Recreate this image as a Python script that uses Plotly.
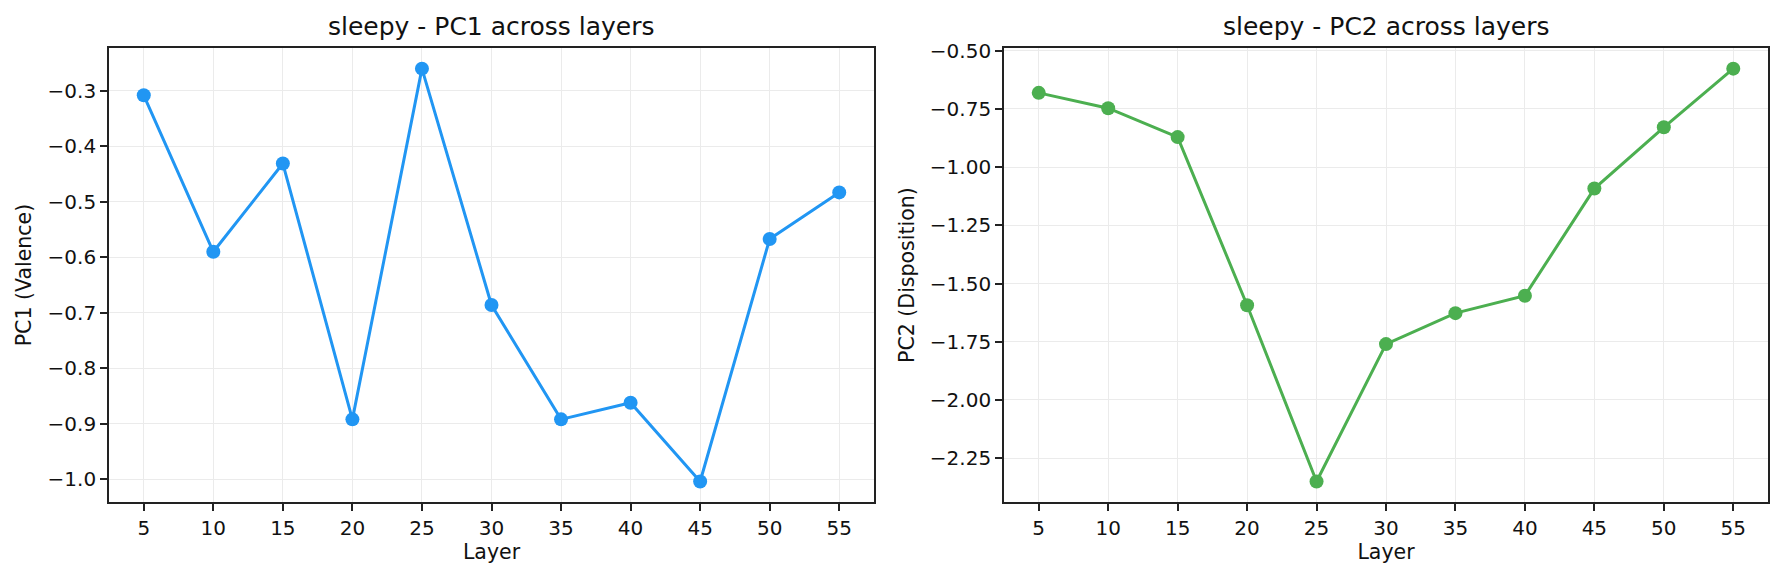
import plotly.graph_objects as go

# layer index for both panels
layers = [5, 10, 15, 20, 25, 30, 35, 40, 45, 50, 55]

# values
pc1_valence = [-0.308, -0.590, -0.431, -0.892, -0.260, -0.686, -0.892, -0.862, -1.004, -0.567, -0.483]
pc2_disposition = [-0.681, -0.747, -0.871, -1.593, -2.350, -1.760, -1.627, -1.552, -1.092, -0.829, -0.577]

titles = ["sleepy - PC1 across layers", "sleepy - PC2 across layers"]
y_labels = ["PC1 (Valence)", "PC2 (Disposition)"]

# page has an 8px body margin, so the figure is a bit smaller than the window
W, H = 1768, 565
OFF = 8
FONT = "DejaVu Sans"
INK = "#111"


def padded(vals, frac=0.05):
    """matplotlib style 5% margin around the data"""
    lo, hi = min(vals), max(vals)
    pad = (hi - lo) * frac
    return [lo - pad, hi + pad]


def px_x(x):
    return (x - OFF) / W


def px_y(y):
    # y measured from the top of the window
    return (H - (y - OFF)) / H


fig = go.Figure()

fig.add_trace(go.Scatter(
    x=layers, y=pc1_valence,
    mode="lines+markers",
    line=dict(color="#2196F3", width=3),
    marker=dict(size=14, color="#2196F3"),
    xaxis="x", yaxis="y",
    showlegend=False,
))

fig.add_trace(go.Scatter(
    x=layers, y=pc2_disposition,
    mode="lines+markers",
    line=dict(color="#4CAF50", width=3),
    marker=dict(size=14, color="#4CAF50"),
    xaxis="x2", yaxis="y2",
    showlegend=False,
))

axis_common = dict(
    ticks="outside", ticklen=7, tickwidth=1.6, tickcolor="#222",
    showline=True, linecolor="#222", linewidth=1.7, mirror=True,
    showgrid=True, gridcolor="#ebebeb", gridwidth=1.2,
    zeroline=False,
    tickfont=dict(family=FONT, size=20, color=INK),
)
x_common = dict(
    axis_common,
    range=padded(layers),
    tickmode="array",
    tickvals=layers,
    title=dict(text="Layer", font=dict(family=FONT, size=20.5, color=INK), standoff=6),
)

ydom = [px_y(501), px_y(39.5)]

fig.update_layout(
    width=W, height=H,
    margin=dict(l=0, r=0, t=0, b=0),
    paper_bgcolor="white",
    plot_bgcolor="white",
    xaxis=dict(x_common, domain=[px_x(109), px_x(874)], anchor="y"),
    xaxis2=dict(x_common, domain=[px_x(1004), px_x(1768)], anchor="y2"),
    yaxis=dict(axis_common, domain=ydom, anchor="x",
               range=padded(pc1_valence), dtick=0.1, tickformat=".1f",
               title=dict(text=y_labels[0], font=dict(family=FONT, size=20.5, color=INK), standoff=10)),
    yaxis2=dict(axis_common, domain=ydom, anchor="x2",
                range=padded(pc2_disposition), dtick=0.25, tickformat=".2f",
                title=dict(text=y_labels[1], font=dict(family=FONT, size=20.5, color=INK), standoff=10)),
)

centers = [(px_x(109) + px_x(874)) / 2, (px_x(1004) + px_x(1768)) / 2]
for cx, t in zip(centers, titles):
    fig.add_annotation(
        text=t, x=cx, y=px_y(18), xref="paper", yref="paper",
        xanchor="center", yanchor="middle", showarrow=False,
        font=dict(family=FONT, size=25, color=INK),
    )

fig.write_html("out.html")
